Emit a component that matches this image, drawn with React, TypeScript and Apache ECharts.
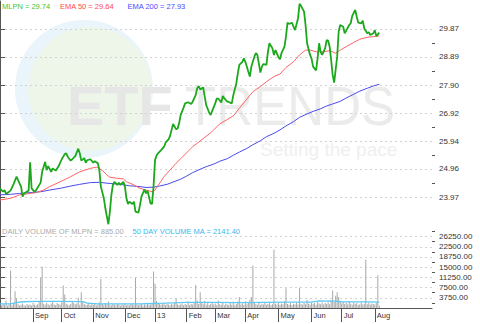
import { useEffect, useRef } from 'react';
import * as echarts from 'echarts';

// x positions are trading-day indices counted from 2 Aug 2012
const monthTickDays = [22, 41, 62, 83, 103, 124, 143, 163, 185, 207, 227, 249];
const monthLabels = ['Sep', 'Oct', 'Nov', 'Dec', '13', 'Feb', 'Mar', 'Apr', 'May', 'Jun', 'Jul', 'Aug'];

const priceTickValues = [23.97, 24.96, 25.94, 26.92, 27.9, 28.89, 29.87];
const priceMinorTickValues = [24.465, 25.45, 26.43, 27.41, 28.395, 29.38];
const volumeTickValues = [3750, 7500, 11250, 15000, 18750, 22500, 26250];
const volumeMinorTickValues = [1875, 5625, 9375, 13125, 16875, 20625, 24375, 28125];

const priceDays = [
  0, 2, 3, 4, 7, 9, 11, 12, 14, 15,
  16, 18, 19, 20, 21, 23, 24, 27, 28, 30,
  31, 32, 34, 35, 37, 39, 41, 43, 44, 45,
  47, 48, 50, 52, 53, 54, 56, 57, 58, 60,
  62, 63, 65, 66, 67, 69, 70, 71, 72, 73,
  74, 75, 76, 78, 79, 80, 82, 83, 84, 85,
  86, 88, 89, 90, 92, 93, 94, 96, 97, 98,
  100, 101, 102, 103, 104, 105, 107, 109, 110, 112,
  113, 114, 115, 117, 118, 119, 120, 122, 123, 125,
  127, 128, 130, 131, 132, 133, 135, 136, 137, 139,
  140, 141, 143, 144, 145, 147, 148, 149, 151, 152,
  154, 155, 157, 158, 159, 161, 162, 163, 165, 166,
  167, 169, 170, 171, 173, 174, 175, 177, 178, 179,
  181, 182, 183, 185, 186, 187, 189, 190, 191, 192,
  194, 195, 196, 198, 199, 200, 202, 203, 204, 206,
  207, 208, 210, 211, 212, 213, 214, 216, 217, 218,
  219, 220, 221, 222, 224, 225, 226, 228, 229, 230,
  232, 233, 234, 236, 237, 238, 240, 241, 242, 244,
  245, 246, 248, 249, 250, 252,
];
const priceValues = [
  24.28, 24.16, 24.22, 24.08, 24.2, 24.43, 24.69, 24.57, 24.34, 23.99,
  24.1, 24.17, 24.2, 25.19, 24.28, 24.15, 24.22, 24.48, 24.86, 25.21,
  24.92, 25.06, 24.86, 24.98, 24.9, 25.06, 25.3, 25.48, 25.51, 25.39,
  25.25, 25.3, 25.41, 25.67, 25.51, 25.25, 25.34, 25.18, 25.27, 25.3,
  25.18, 25.23, 25.16, 24.92, 24.34, 23.93, 23.58, 23.29, 23.02, 23.46,
  24.05, 24.4, 24.51, 24.4, 24.48, 24.4, 24.51, 24.34, 23.93, 23.73,
  23.81, 23.73, 23.81, 23.46, 23.43, 23.69, 23.99, 24.24, 24.1, 24.2,
  23.75, 23.73, 24.34, 25.27, 25.43, 25.51, 25.62, 25.74, 25.88, 26.0,
  26.12, 26.33, 26.54, 26.35, 26.38, 26.56, 26.85, 27.12, 27.26, 27.3,
  27.24, 27.32, 27.55, 27.79, 27.87, 27.75, 27.82, 27.5, 27.2, 26.93,
  26.85, 27.0, 27.26, 27.43, 27.43, 27.29, 27.52, 27.44, 27.32, 27.31,
  27.26, 27.55, 27.96, 28.31, 28.61, 28.72, 28.84, 28.72, 28.37, 28.2,
  28.55, 28.9, 29.02, 28.96, 28.34, 28.55, 28.64, 28.61, 29.07, 29.37,
  29.19, 28.96, 29.13, 28.88, 28.81, 29.02, 29.25, 29.6, 30.09, 30.05,
  30.09, 29.95, 29.83, 30.24, 30.75, 30.68, 30.48, 30.01, 29.37, 28.96,
  28.83, 28.55, 28.42, 28.84, 29.37, 29.07, 28.96, 29.19, 29.48, 29.46,
  29.25, 28.78, 28.26, 27.99, 28.9, 29.78, 30.01, 29.95, 29.72, 29.81,
  30.01, 30.07, 30.33, 30.54, 30.3, 30.09, 30.07, 30.16, 29.89, 29.72,
  29.76, 29.66, 29.72, 29.83, 29.62, 29.74,
];

const ema50Days = [
  0, 7, 13, 20, 24, 29, 33, 40, 47, 53,
  60, 64, 66, 69, 71, 73, 78, 82, 84, 89,
  93, 97, 101, 103, 109, 117, 128, 140, 146, 155,
  159, 164, 168, 173, 177, 182, 186, 190, 195, 199,
  203, 206, 210, 215, 219, 223, 226, 230, 235, 239,
  244, 248, 252,
];
const ema50Values = [
  23.87, 23.93, 24.05, 24.1, 24.13, 24.22, 24.34, 24.51, 24.69, 24.86,
  24.98, 25.02, 24.98, 24.86, 24.75, 24.67, 24.63, 24.61, 24.51, 24.4,
  24.28, 24.22, 24.16, 24.22, 24.69, 25.16, 25.74, 26.23, 26.54, 26.82,
  27.09, 27.41, 27.67, 27.85, 28.02, 28.2, 28.29, 28.52, 28.72, 28.96,
  29.13, 29.13, 29.07, 29.07, 29.11, 29.02, 29.13, 29.25, 29.4, 29.51,
  29.58, 29.6, 29.63,
];

const ema200Days = [
  0, 7, 13, 20, 27, 33, 40, 47, 53, 60,
  66, 73, 80, 86, 93, 97, 102, 106, 111, 115,
  120, 124, 128, 133, 137, 142, 146, 151, 155, 159,
  164, 168, 173, 177, 182, 186, 190, 195, 199, 204,
  208, 213, 217, 221, 226, 230, 235, 239, 244, 248,
  252,
];
const ema200Values = [
  24.05, 24.07, 24.1, 24.13, 24.16, 24.22, 24.28, 24.36, 24.42, 24.48,
  24.49, 24.45, 24.42, 24.37, 24.34, 24.31, 24.32, 24.36, 24.42, 24.5,
  24.6, 24.71, 24.83, 24.95, 25.04, 25.13, 25.23, 25.32, 25.44, 25.55,
  25.68, 25.81, 25.95, 26.09, 26.21, 26.33, 26.47, 26.62, 26.77, 26.89,
  26.98, 27.07, 27.17, 27.24, 27.33, 27.45, 27.58, 27.69, 27.79, 27.87,
  27.93,
];

// daily volume, one value per trading day (index = day)
const volumeValues = [
  1200, 900, 1500, 1100, 2750, 800, 1300, 13800, 1000, 1600,
  6200, 3500, 1400, 900, 1200, 1700, 1000, 800, 1500, 1100,
  1300, 900, 1800, 1200, 1000, 1400, 2200, 11100, 15300, 1600,
  1200, 1900, 1400, 1000, 1700, 2500, 1300, 1100, 1800, 1500,
  1200, 2100, 8300, 5000, 1600, 1300, 1000, 1500, 2200, 1800,
  1400, 1700, 3750, 1200, 5800, 2400, 1500, 1100, 1300, 1900,
  1000, 1400, 1200, 1600, 900, 1300, 2000, 10700, 1500, 1100,
  1800, 1300, 2400, 1100, 900, 1500, 1200, 1000, 1600, 1300,
  800, 1400, 1100, 1700, 1000, 1200, 900, 1500, 1300, 1100,
  11100, 1400, 1000, 1200, 1600, 800, 1300, 1000, 1500, 1100,
  1200, 1700, 13400, 8900, 2600, 1500, 1800, 1200, 1400, 2000,
  1100, 1600, 1300, 1000, 1500, 1200, 1800, 3600, 1400, 1100,
  1300, 1700, 1000, 1500, 1200, 2400, 1100, 1600, 1300, 1900,
  8500, 2800, 1500, 5800, 2300, 1400, 2600, 1200, 1800, 1100,
  1500, 2000, 1300, 1700, 1100, 2800, 1400, 1200, 1900, 1000,
  1600, 1300, 1100, 1800, 1200, 2200, 1000, 1500, 2400, 4000,
  1300, 1700, 1100, 2500, 1400, 1800, 3000, 4000, 15600, 2200,
  1500, 1200, 1900, 1100, 1600, 1300, 2000, 1200, 1500, 1800,
  1100, 1400, 21400, 1600, 1300, 1900, 1200, 1700, 1400, 2500,
  7300, 1500, 1200, 1800, 1100, 1600, 1400, 2000, 1300, 7400,
  1500, 1200, 1800, 1400, 2900, 1600, 1300, 2000, 1500, 1800,
  1200, 2300, 1700, 1400, 2000, 1300, 1800, 1500, 2100, 1400,
  2700, 6400, 2300, 4500, 5800, 4000, 2500, 1700, 2200, 1500,
  1900, 1300, 2600, 1600, 1200, 2000, 1500, 1800, 1100, 1400,
  2000, 1300, 1600, 17700, 1400, 1900, 1200, 1700, 1500, 1300,
  1800, 12000, 885,
];

const volumeMaDays = [0, 7, 10, 15, 25, 40, 55, 58, 65, 80, 95, 110, 124, 140, 160, 175, 190, 207, 212, 217, 220, 227, 235, 245, 252];
const volumeMaValues = [1550, 1550, 1900, 2300, 2400, 2400, 2380, 1800, 1550, 1540, 1560, 1800, 2100, 2050, 1950, 2100, 2150, 2150, 2600, 2550, 2650, 2300, 2280, 2250, 2141];

const FONT = '"Liberation Sans", Arial, sans-serif';
const X_MAX = 287;
const PRICE_MIN = 22.888;
const PRICE_MAX = 30.852;
const VOL_MAX = 29410;

const zip = (d: number[], v: number[]) => d.map((x, i) => [x, v[i]]);

function buildOption() {
  const legendText = (x: number, y: number, text: string, fill: string) => ({
    type: 'text',
    x,
    y,
    z: 10,
    silent: true,
    style: { text, fill, fontSize: 7.5, fontFamily: FONT, verticalAlign: 'middle' },
  });
  return {
    animation: false,
    backgroundColor: '#ffffff',
    textStyle: { fontFamily: FONT },
    graphic: [
      { type: 'circle', z: -10, silent: true, shape: { cx: 84, cy: 89, r: 69 }, style: { fill: '#e9f4fb' } },
      { type: 'circle', z: -9, silent: true, shape: { cx: 90, cy: 89, r: 62 }, style: { fill: '#eef6ea' } },
      {
        type: 'text', z: -8, silent: true, x: 67, y: 105,
        style: { text: 'ETF', fill: '#e6e6e6', fontSize: 56, fontWeight: 'bold', fontFamily: FONT, verticalAlign: 'middle' },
      },
      {
        type: 'text', z: -8, silent: true, x: 185, y: 105, scaleX: 0.913,
        style: { text: 'TRENDS', fill: '#ebebeb', fontSize: 56, fontFamily: FONT, verticalAlign: 'middle' },
      },
      {
        type: 'text', z: -8, silent: true, x: 260, y: 149,
        style: { text: 'Setting the pace', fill: '#efefef', fontSize: 19, fontFamily: FONT, verticalAlign: 'middle' },
      },
      legendText(2, 6, 'MLPN = 29.74', '#3cc43c'),
      legendText(60, 6, 'EMA 50 = 29.64', '#ff4a4a'),
      legendText(127.5, 6, 'EMA 200 = 27.93', '#4a4aff'),
      legendText(2, 231, 'DAILY VOLUME OF MLPN = 885.00', '#aaaaaa'),
      legendText(132.5, 231, '50 DAY VOLUME MA = 2141.40', '#38b8ee'),
    ],
    grid: [
      { left: 0, width: 432, top: 1, height: 227 },
      { left: 0, width: 432, top: 228, height: 80 },
    ],
    xAxis: [
      { type: 'value', gridIndex: 0, min: 0, max: X_MAX, show: false },
      {
        type: 'value',
        gridIndex: 1,
        min: 0,
        max: X_MAX,
        axisLine: { show: true, onZero: false, lineStyle: { color: '#555555', width: 1 } },
        axisTick: { show: true, customValues: monthTickDays, length: 14, inside: false, lineStyle: { color: '#555555' } },
        axisLabel: {
          show: true,
          customValues: monthTickDays,
          formatter: (v: number) => {
            const k = monthTickDays.indexOf(Math.round(v));
            return k >= 0 ? monthLabels[k] : '';
          },
          align: 'left',
          padding: [0, 0, 0, 2],
          margin: 3,
          fontSize: 7.5,
          color: '#333333',
          fontFamily: FONT,
        },
        splitLine: { show: false },
      },
    ],
    yAxis: [
      {
        type: 'value',
        gridIndex: 0,
        position: 'right',
        min: PRICE_MIN,
        max: PRICE_MAX,
        axisLine: { show: true, lineStyle: { color: '#555555', width: 1 } },
        axisTick: { show: true, customValues: priceTickValues, length: 5, lineStyle: { color: '#555555' } },
        axisLabel: { customValues: priceTickValues, formatter: (v: number) => v.toFixed(2), margin: 7, fontSize: 8, color: '#333333', fontFamily: FONT },
        splitLine: { show: true, lineStyle: { color: '#d2d2d2', type: [2, 3], width: 1 } },
      },
      {
        type: 'value',
        gridIndex: 0,
        position: 'right',
        min: PRICE_MIN,
        max: PRICE_MAX,
        axisLine: { show: false },
        axisTick: { show: true, customValues: priceMinorTickValues, length: 3, lineStyle: { color: '#555555' } },
        axisLabel: { show: false },
        splitLine: { show: false },
      },
      {
        type: 'value',
        gridIndex: 1,
        position: 'right',
        min: 0,
        max: VOL_MAX,
        axisLine: { show: true, lineStyle: { color: '#555555', width: 1 } },
        axisTick: { show: true, customValues: volumeTickValues, length: 5, lineStyle: { color: '#555555' } },
        axisLabel: { customValues: volumeTickValues, formatter: (v: number) => v.toFixed(2), margin: 7, fontSize: 8, color: '#333333', fontFamily: FONT },
        splitLine: { show: true, lineStyle: { color: '#d2d2d2', type: [2, 3], width: 1 } },
      },
      {
        type: 'value',
        gridIndex: 1,
        position: 'right',
        min: 0,
        max: VOL_MAX,
        axisLine: { show: false },
        axisTick: { show: true, customValues: volumeMinorTickValues, length: 3, lineStyle: { color: '#555555' } },
        axisLabel: { show: false },
        splitLine: { show: false },
      },
    ],
    series: [
      {
        type: 'line', name: 'EMA 200', xAxisIndex: 0, yAxisIndex: 0, z: 3,
        data: zip(ema200Days, ema200Values), showSymbol: false, symbol: 'none',
        lineStyle: { color: '#4a4aee', width: 1 },
      },
      {
        type: 'line', name: 'EMA 50', xAxisIndex: 0, yAxisIndex: 0, z: 4,
        data: zip(ema50Days, ema50Values), showSymbol: false, symbol: 'none',
        lineStyle: { color: '#ff6464', width: 1 },
      },
      {
        type: 'line', name: 'MLPN', xAxisIndex: 0, yAxisIndex: 0, z: 5,
        data: zip(priceDays, priceValues), showSymbol: false, symbol: 'none',
        lineStyle: { color: '#1ca81c', width: 1.8 },
      },
      {
        type: 'bar', name: 'Volume', xAxisIndex: 1, yAxisIndex: 2, z: 2,
        data: volumeValues.map((v, i) => [i, v]), barWidth: 1,
        itemStyle: { color: '#a8a8a8' },
      },
      {
        type: 'line', name: 'Volume MA', xAxisIndex: 1, yAxisIndex: 2, z: 3,
        data: zip(volumeMaDays, volumeMaValues), showSymbol: false, symbol: 'none',
        lineStyle: { color: '#5ec9f3', width: 1.3 },
      },
    ],
  };
}

export default function App() {
  const ref = useRef<HTMLDivElement>(null);
  useEffect(() => {
    if (!ref.current) return;
    const chart = echarts.init(ref.current, null, { renderer: 'svg' });
    chart.setOption(buildOption() as any);
    return () => chart.dispose();
  }, []);
  return <div ref={ref} style={{ position: 'fixed', left: 0, top: 0, width: 480, height: 324 }} />;
}
